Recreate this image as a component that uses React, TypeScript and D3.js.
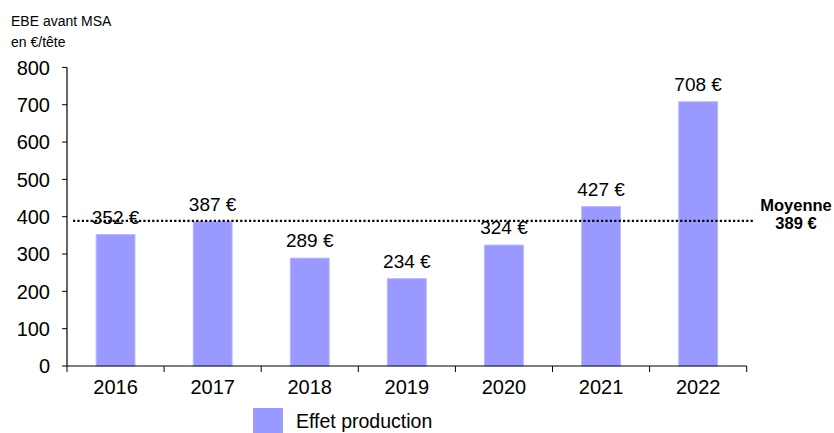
import React from "react";
import * as d3 from "d3";

const years = ["2016", "2017", "2018", "2019", "2020", "2021", "2022"];
const values = [352, 387, 289, 234, 324, 427, 708];
const yTicks = [0, 100, 200, 300, 400, 500, 600, 700, 800];
const average = 389;
const seriesName = "Effet production";
const yTitle = ["EBE avant MSA", "en €/tête"];
const avgLabel = ["Moyenne", "389 €"];

const W = 834;
const H = 433;
const FONT = "'Liberation Sans', Arial, sans-serif";

export default function App() {
  const x = d3.scaleBand<string>().domain(years).range([67, 746.7]).paddingInner(0.6).paddingOuter(0.3);
  const y = d3.scaleLinear().domain([0, 800]).range([366, 67.4]);
  const step = x.step();
  const boundaries = d3.range(years.length + 1).map((i) => 67 + i * step);

  return (
    <svg width={W} height={H} style={{ position: "absolute", left: 0, top: 0, background: "#fff" }} fontFamily={FONT}>
      <rect width={W} height={H} fill="#fff" />
      {yTitle.map((t, i) => (
        <text key={t} x={11} y={26 + i * 21} fontSize={14} fill="#000">{t}</text>
      ))}
      {/* bars */}
      {years.map((yr, i) => (
        <rect key={yr} x={x(yr)} y={y(values[i])} width={x.bandwidth()} height={y(0) - y(values[i])}
          fill="#9999FF" stroke="#b8b8ff" strokeWidth={1} />
      ))}
      {/* axes */}
      <line x1={67} x2={67} y1={y(800)} y2={y(0)} stroke="#000" strokeWidth={1.2} />
      <line x1={67} x2={boundaries[boundaries.length - 1]} y1={y(0)} y2={y(0)} stroke="#000" strokeWidth={1.2} />
      {yTicks.map((t) => (
        <g key={t}>
          <line x1={62} x2={67} y1={y(t)} y2={y(t)} stroke="#000" strokeWidth={1} />
          <text x={50} y={y(t)} dy="0.36em" textAnchor="end" fontSize={20} fill="#000">{t}</text>
        </g>
      ))}
      {boundaries.map((b, i) => (
        <line key={i} x1={b} x2={b} y1={y(0)} y2={y(0) + 6} stroke="#000" strokeWidth={1} />
      ))}
      {years.map((yr) => (
        <text key={yr} x={(x(yr) as number) + x.bandwidth() / 2} y={393.5} textAnchor="middle" fontSize={20} fill="#000">{yr}</text>
      ))}
      {/* value labels */}
      {years.map((yr, i) => (
        <text key={yr} x={(x(yr) as number) + x.bandwidth() / 2} y={y(values[i]) - 11} textAnchor="middle" fontSize={19} fill="#000">
          {values[i]} €
        </text>
      ))}
      {/* average line */}
      <line x1={73} x2={755} y1={y(average)} y2={y(average)} stroke="#000" strokeWidth={2.2} strokeDasharray="2.2,2.2" />
      {avgLabel.map((t, i) => (
        <text key={t} x={796} y={211 + i * 18} textAnchor="middle" fontSize={16.5} fontWeight="bold" fill="#000">{t}</text>
      ))}
      {/* legend */}
      <rect x={253} y={408} width={30} height={26} fill="#9999FF" />
      <text x={296} y={428} fontSize={19.5} fill="#000">{seriesName}</text>
    </svg>
  );
}
